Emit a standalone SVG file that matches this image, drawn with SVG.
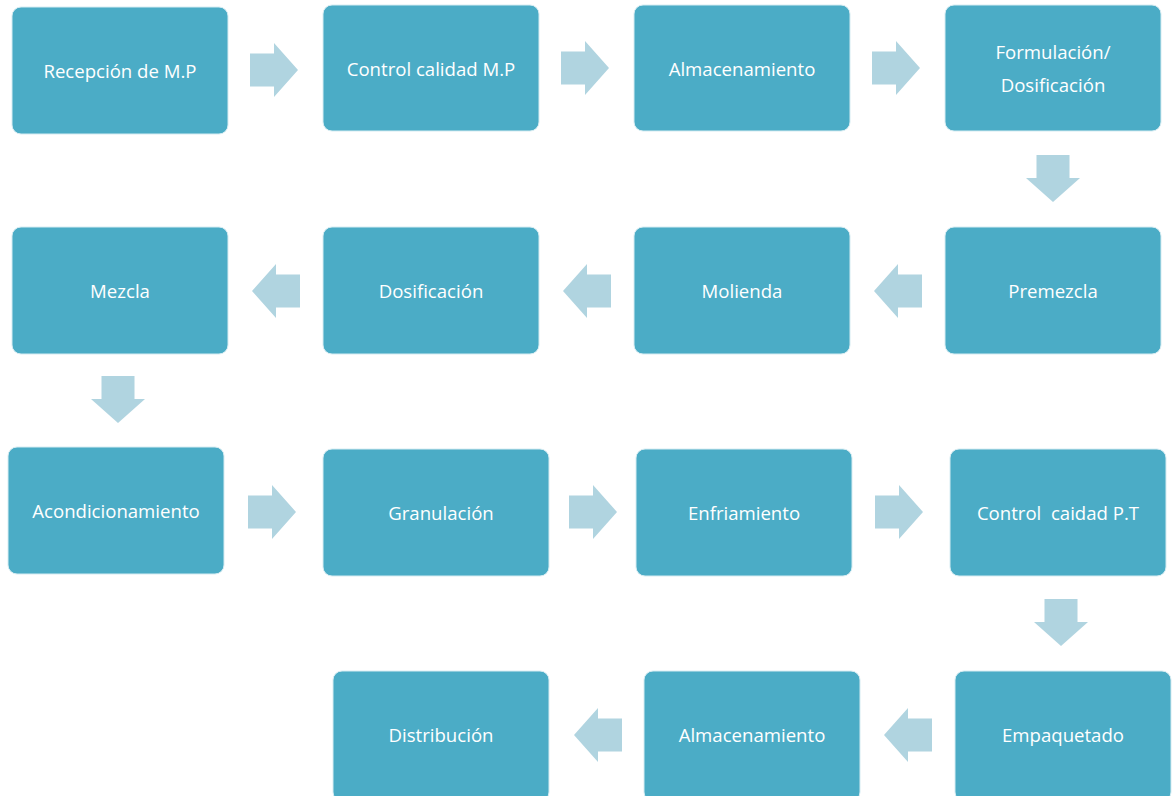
<svg xmlns="http://www.w3.org/2000/svg" width="1173" height="796" viewBox="0 0 1173 796">
<style>
.box{fill:#4BACC6;stroke:#D6ECF2;stroke-width:1}
.lbl{font-family:"Open Sans","Liberation Sans",sans-serif;font-size:18.6px;fill:#FFFFFF;text-anchor:middle;dominant-baseline:central}
.arr{fill:#B0D4E0}
</style>
<rect width="1173" height="796" fill="#FFFFFF"/>
<defs>
<path id="ar" d="M0,-16.5 H24 V-27 L48,0 L24,27 V16.5 H0 Z"/>
<path id="al" d="M0,-16.5 H-24 V-27 L-48,0 L-24,27 V16.5 H0 Z"/>
<path id="ad" d="M-16.5,0 V23 H-27 L0,47 L27,23 H16.5 V0 Z"/>
</defs>
<g id="connectors" class="arr">
<use href="#ar" x="250" y="70"/>
<use href="#ar" x="561" y="68"/>
<use href="#ar" x="872" y="68"/>
<use href="#ad" x="1053" y="155"/>
<use href="#al" x="922" y="291"/>
<use href="#al" x="611" y="291"/>
<use href="#al" x="300" y="291"/>
<use href="#ad" x="118" y="376"/>
<use href="#ar" x="248" y="512"/>
<use href="#ar" x="569" y="512"/>
<use href="#ar" x="875" y="512"/>
<use href="#ad" x="1061" y="599"/>
<use href="#al" x="932" y="735"/>
<use href="#al" x="622" y="735"/>
</g>
<g id="n1"><rect class="box" x="12" y="7" width="216" height="127" rx="9"/><text class="lbl" x="120" y="70">Recepción de M.P</text></g>
<g id="n2"><rect class="box" x="323" y="5" width="216" height="126" rx="9"/><text class="lbl" x="431" y="68">Control calidad M.P</text></g>
<g id="n3"><rect class="box" x="634" y="5" width="216" height="126" rx="9"/><text class="lbl" x="742" y="68">Almacenamiento</text></g>
<g id="n4"><rect class="box" x="945" y="5" width="216" height="126" rx="9"/><text class="lbl" x="1053" y="51">Formulación/</text><text class="lbl" x="1053" y="84">Dosificación</text></g>
<g id="n5"><rect class="box" x="945" y="227" width="216" height="127" rx="9"/><text class="lbl" x="1053" y="290">Premezcla</text></g>
<g id="n6"><rect class="box" x="634" y="227" width="216" height="127" rx="9"/><text class="lbl" x="742" y="290">Molienda</text></g>
<g id="n7"><rect class="box" x="323" y="227" width="216" height="127" rx="9"/><text class="lbl" x="431" y="290">Dosificación</text></g>
<g id="n8"><rect class="box" x="12" y="227" width="216" height="127" rx="9"/><text class="lbl" x="120" y="290">Mezcla</text></g>
<g id="n9"><rect class="box" x="8" y="447" width="216" height="127" rx="9"/><text class="lbl" x="116" y="510">Acondicionamiento</text></g>
<g id="n10"><rect class="box" x="323" y="449" width="226" height="127" rx="9"/><text class="lbl" x="441" y="512">Granulación</text></g>
<g id="n11"><rect class="box" x="636" y="449" width="216" height="127" rx="9"/><text class="lbl" x="744" y="512">Enfriamiento</text></g>
<g id="n12"><rect class="box" x="950" y="449" width="216" height="127" rx="9"/><text class="lbl" x="1058" y="512" xml:space="preserve">Control  caidad P.T</text></g>
<g id="n13"><rect class="box" x="955" y="671" width="216" height="130" rx="9"/><text class="lbl" x="1063" y="734">Empaquetado</text></g>
<g id="n14"><rect class="box" x="644" y="671" width="216" height="130" rx="9"/><text class="lbl" x="752" y="734">Almacenamiento</text></g>
<g id="n15"><rect class="box" x="333" y="671" width="216" height="130" rx="9"/><text class="lbl" x="441" y="734">Distribución</text></g>
</svg>
